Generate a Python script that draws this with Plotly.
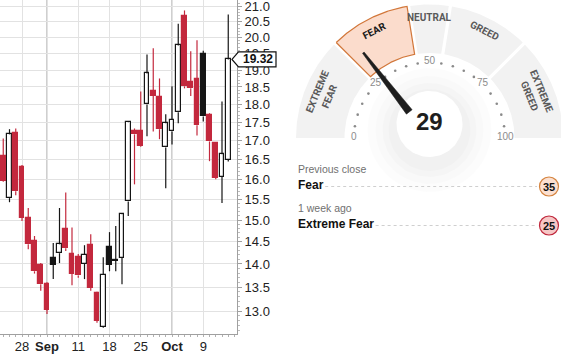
import math
import numpy as np
import plotly.graph_objects as go

# ---------------- data ----------------
dates = ["2023-08-23", "2023-08-24", "2023-08-25", "2023-08-28", "2023-08-29", "2023-08-30",
         "2023-08-31", "2023-09-01", "2023-09-05", "2023-09-06", "2023-09-07", "2023-09-08",
         "2023-09-11", "2023-09-12", "2023-09-13", "2023-09-14", "2023-09-15", "2023-09-18",
         "2023-09-19", "2023-09-20", "2023-09-21", "2023-09-22", "2023-09-25", "2023-09-26",
         "2023-09-27", "2023-09-28", "2023-09-29", "2023-10-02", "2023-10-03", "2023-10-04",
         "2023-10-05", "2023-10-06", "2023-10-09", "2023-10-10", "2023-10-11", "2023-10-12",
         "2023-10-13"]
opens = [16.60, 15.53, 17.20, 16.30, 15.05, 14.51, 13.98, 13.56, 14.13, 14.24, 14.79, 14.22,
         14.15, 14.00, 14.42, 13.37, 12.68, 14.37, 14.09, 14.13, 15.45, 17.25, 17.25, 18.00,
         18.37, 18.20, 16.82, 17.25, 17.78, 20.70, 18.66, 18.72, 19.50, 17.69, 16.93, 16.06,
         16.49]
highs = [17.06, 17.31, 17.33, 16.36, 15.29, 14.63, 14.02, 13.60, 14.47, 15.29, 15.67, 14.83,
         14.22, 14.42, 14.67, 13.40, 14.15, 14.72, 14.86, 15.15, 17.52, 17.33, 18.37, 19.47,
         19.66, 18.75, 17.72, 18.52, 20.44, 20.87, 19.57, 19.91, 19.59, 17.75, 16.95, 18.08,
         20.74]
lows = [15.93, 15.43, 15.60, 14.98, 14.33, 13.79, 13.42, 12.94, 13.67, 14.02, 14.29, 13.54,
        13.70, 13.67, 13.42, 12.76, 12.66, 13.84, 13.84, 13.56, 15.10, 15.87, 16.83, 17.12,
        17.25, 17.04, 15.77, 16.90, 17.47, 18.46, 18.24, 17.14, 17.52, 16.46, 16.00, 15.41,
        16.45]
closes = [15.95, 17.17, 15.70, 15.05, 14.44, 13.84, 13.56, 13.02, 13.98, 14.44, 14.35, 13.79,
          13.75, 14.20, 13.48, 12.80, 13.76, 13.98, 14.07, 15.14, 17.50, 17.17, 16.85, 18.90,
          18.24, 17.31, 17.47, 17.56, 19.75, 18.52, 18.46, 17.42, 17.66, 16.98, 16.03, 16.64,
          19.32]
tick_dates = ["2023-08-28", "2023-09-01", "2023-09-11", "2023-09-18", "2023-09-25", "2023-10-02", "2023-10-09"]
tick_labels = ["28", "<b>Sep</b>", "11", "18", "25", "<b>Oct</b>", "9"]
month_dates = ["2023-09-01", "2023-10-02"]
y_tick_values = [13.0, 13.5, 14.0, 14.5, 15.0, 15.5, 16.0, 16.5, 17.0, 17.5, 18.0, 18.5,
                 19.0, 19.5, 20.0, 20.5, 21.0]
y_tick_labels = ["%.1f" % v for v in y_tick_values]

zone_names = ["EXTREME<br>FEAR", "FEAR", "NEUTRAL", "GREED", "EXTREME<br>GREED"]
zone_bounds = [0, 25, 45, 55, 75, 100]
gauge_ticks = [0, 25, 50, 75, 100]
score = 29
history_labels = ["Previous close", "1 week ago"]
history_ratings = ["Fear", "Extreme Fear"]
history_scores = [35, 25]

# ---------------- style / layout constants ----------------
W, H = 561, 354
RED = "#c3283d"
BLACK = "#151515"
FONT = "Liberation Sans, Arial, sans-serif"
NARROW = "Liberation Sans Narrow, Roboto, Arial, sans-serif"

PLOT_RIGHT_PX = 237
PLOT_BOTTOM_PX = 334
x_range = [-0.52, 37.4]
y_range = [1.09823, 1.32666]
y_dom0 = 1 - PLOT_BOTTOM_PX / H

fig = go.Figure()

# ---------------- candlesticks (hollow style) ----------------
xi = list(range(len(dates)))
kinds = []
for i in xi:
    prev = closes[i - 1] if i > 0 else opens[i]
    hollow = closes[i] > opens[i]
    col = BLACK if closes[i] >= prev else RED
    kinds.append((hollow, col))

# wicks
for col in (BLACK, RED):
    wx, wy = [], []
    for i in xi:
        if kinds[i][1] != col:
            continue
        top = max(opens[i], closes[i])
        bot = min(opens[i], closes[i])
        wx += [i, i, None, i, i, None]
        wy += [highs[i], top, None, bot, lows[i], None]
    fig.add_trace(go.Scatter(x=wx, y=wy, mode="lines", line=dict(color=col, width=1.2),
                             hoverinfo="skip", xaxis="x", yaxis="y"))

for kind in [(True, BLACK), (True, RED), (False, BLACK), (False, RED)]:
    idx = [i for i in xi if kinds[i] == kind]
    if not idx:
        continue
    hollow, col = kind
    base = [min(opens[i], closes[i]) for i in idx]
    size = [max(abs(closes[i] - opens[i]), 0.02) for i in idx]
    fig.add_trace(go.Bar(x=idx, y=size, base=base, width=0.78,
                         marker=dict(color="white" if hollow else col, line=dict(color=col, width=1.2)),
                         hoverinfo="skip", xaxis="x", yaxis="y"))

# month separator lines
for d in month_dates:
    fig.add_shape(type="line", xref="x", yref="y domain", x0=dates.index(d), x1=dates.index(d),
                  y0=0, y1=1, line=dict(color="#cfcfcf", width=2), layer="below")

# last price tag
def yfrac(v):
    f = (math.log10(v) - y_range[0]) / (y_range[1] - y_range[0])
    return y_dom0 + f * (1 - y_dom0)

yp = yfrac(closes[-1])
hh = 7.5 / H
xl, xb, xr = 232 / W, 238.5 / W, 276 / W
fig.add_shape(type="path", xref="paper", yref="paper",
              path=f"M {xl} {yp} L {xb} {yp + hh} L {xr} {yp + hh} L {xr} {yp - hh} L {xb} {yp - hh} Z",
              fillcolor="white", line=dict(color="#111", width=1.2), layer="above")
fig.add_annotation(xref="paper", yref="paper", x=257.5 / W, y=yp, xanchor="center", yanchor="middle",
                   text="<b>%.2f</b>" % closes[-1],
                   showarrow=False, font=dict(family=FONT, size=12, color="#111"))

# ---------------- gauge ----------------
CX, CY = 429.5, 138.0
R_OUT, R_IN, GAP = 133.5, 85.0, 1.6


def ang(v):
    return math.pi * (1 - v / 100.0)


def gx(px):
    return px - CX


def gy(py):
    return CY - py


# faint halo around the centre
for r, a in [(62, 0.010), (54, 0.012), (47, 0.014), (41, 0.014)]:
    t = np.linspace(0, 2 * np.pi, 90)
    fig.add_trace(go.Scatter(x=(r * np.cos(t)).tolist(), y=(r * np.sin(t) + 8).tolist(), mode="lines",
                             fill="toself", fillcolor=f"rgba(0,0,0,{a})", line=dict(width=0),
                             hoverinfo="skip", xaxis="x2", yaxis="y2"))
t = np.linspace(0, 2 * np.pi, 90)
fig.add_trace(go.Scatter(x=(33 * np.cos(t)).tolist(), y=(33 * np.sin(t) + 14).tolist(), mode="lines",
                         fill="toself", fillcolor="white", line=dict(width=0),
                         hoverinfo="skip", xaxis="x2", yaxis="y2"))

nz = len(zone_names)
for k in range(nz):
    v0, v1 = zone_bounds[k], zone_bounds[k + 1]
    a0, a1 = ang(v0), ang(v1)

    def off(r, edge):
        if (edge == 0 and k == 0) or (edge == 1 and k == nz - 1):
            return 0.0
        return math.asin(GAP / r)

    outer = np.linspace(a0 - off(R_OUT, 0), a1 + off(R_OUT, 1), 80)
    inner = np.linspace(a1 + off(R_IN, 1), a0 - off(R_IN, 0), 80)
    xs = list(R_OUT * np.cos(outer)) + list(R_IN * np.cos(inner))
    ys = list(R_OUT * np.sin(outer)) + list(R_IN * np.sin(inner))
    xs.append(xs[0])
    ys.append(ys[0])
    active = v0 <= score < v1
    fig.add_trace(go.Scatter(x=xs, y=ys, mode="lines", fill="toself",
                             fillcolor="#fbdccc" if active else "#f2f2f2",
                             line=dict(color="#d2773a" if active else "rgba(0,0,0,0)", width=1.2 if active else 0),
                             hoverinfo="skip", xaxis="x2", yaxis="y2"))
    mid = (a0 + a1) / 2
    two = "<br>" in zone_names[k]
    rl = 115 if two else 120.5
    fig.add_annotation(xref="x2", yref="y2", x=rl * math.cos(mid), y=rl * math.sin(mid),
                       text="<b>%s</b>" % zone_names[k], showarrow=False,
                       textangle=90 - math.degrees(mid),
                       font=dict(family=NARROW, size=10, color="#1a1a1a" if active else "#5a5a5a"))

# dots and tick labels
R_TK = 75.5
dots = [v for v in range(0, 101, 5) if v not in gauge_ticks]
fig.add_trace(go.Scatter(x=[R_TK * math.cos(ang(v)) for v in dots], y=[R_TK * math.sin(ang(v)) for v in dots],
                         mode="markers", marker=dict(size=2.6, color="#8a8a8a"), hoverinfo="skip",
                         xaxis="x2", yaxis="y2"))
for v in gauge_ticks:
    fig.add_annotation(xref="x2", yref="y2", x=R_TK * math.cos(ang(v)), y=R_TK * math.sin(ang(v)) + 2,
                       text=str(v), showarrow=False, font=dict(family=FONT, size=10, color="#8c8c8c"))

# needle
a = ang(score)
ux, uy = math.cos(a), math.sin(a)
nx, ny = -uy, ux
rb, rt, wb, wt = 33, 108, 3.6, 1.0
nxs = [rb * ux + wb * nx, rt * ux + wt * nx, rt * ux - wt * nx, rb * ux - wb * nx, rb * ux + wb * nx]
nys = [rb * uy + wb * ny, rt * uy + wt * ny, rt * uy - wt * ny, rb * uy - wb * ny, rb * uy + wb * ny]
fig.add_trace(go.Scatter(x=nxs, y=nys, mode="lines", fill="toself", fillcolor="#1e1e1e",
                         line=dict(color="#1e1e1e", width=0.5), hoverinfo="skip", xaxis="x2", yaxis="y2"))

fig.add_annotation(xref="x2", yref="y2", x=0, y=gy(121), text="<b>%d</b>" % score, showarrow=False,
                   font=dict(family=FONT, size=24, color="#1e1e1e"))

# history rows
row_label_py = [169, 208]
row_value_py = [185, 224]
for j in range(len(history_labels)):
    fig.add_annotation(xref="x2", yref="y2", x=gx(296), y=gy(row_label_py[j]), xanchor="left",
                       text=history_labels[j], showarrow=False, font=dict(family=FONT, size=10.5, color="#707070"))
    fig.add_annotation(xref="x2", yref="y2", x=gx(296), y=gy(row_value_py[j]), xanchor="left",
                       text="<b>%s</b>" % history_ratings[j], showarrow=False,
                       font=dict(family=FONT, size=12, color="#111"))
    s = history_scores[j]
    if s <= 25:
        fc, lc = "#f6c7c6", "#c0283c"
    elif s < 45:
        fc, lc = "#fbe0d1", "#d5843f"
    else:
        fc, lc = "#eeeeee", "#999999"
    x_end = 296 + 6.3 * len(history_ratings[j]) + 4
    cyp = row_value_py[j] + 1.5
    fig.add_shape(type="line", xref="x2", yref="y2", x0=gx(x_end), x1=gx(537), y0=gy(cyp), y1=gy(cyp),
                  line=dict(color="#cfcfcf", width=1, dash="dot"))
    fig.add_shape(type="circle", xref="x2", yref="y2", x0=gx(549 - 9.5), x1=gx(549 + 9.5),
                  y0=gy(cyp - 9.5), y1=gy(cyp + 9.5), fillcolor=fc, line=dict(color=lc, width=1.2))
    fig.add_annotation(xref="x2", yref="y2", x=gx(549), y=gy(cyp), text="<b>%d</b>" % s, showarrow=False,
                       font=dict(family=FONT, size=11, color="#111"))

# ---------------- layout ----------------
minor_y = [round(v, 1) for v in np.arange(12.6, 21.15, 0.1) if round(v, 1) not in y_tick_values]
fig.update_layout(
    width=W, height=H, margin=dict(l=0, r=0, t=0, b=0),
    paper_bgcolor="white", plot_bgcolor="white", showlegend=False,
    barmode="overlay", bargap=0,
    xaxis=dict(domain=[0, PLOT_RIGHT_PX / W], range=x_range, tickmode="array",
               tickvals=[dates.index(d) for d in tick_dates], ticktext=tick_labels,
               showgrid=True, gridcolor="#e2e2e2", gridwidth=1, zeroline=False,
               showline=True, linecolor="#a0a0a0", linewidth=1, ticks="",
               tickfont=dict(family=FONT, size=13, color="#222"), fixedrange=True,
               automargin=False, ticklabeloverflow="allow",
               minor=dict(dtick=1, tick0=0, ticks="outside", ticklen=2, tickcolor="#b0b0b0", showgrid=False)),
    yaxis=dict(domain=[y_dom0, 1], type="log", range=y_range, side="right", anchor="x",
               tickmode="array", tickvals=y_tick_values, ticktext=y_tick_labels,
               showgrid=True, gridcolor="#e2e2e2", gridwidth=1, zeroline=False,
               showline=True, linecolor="#a0a0a0", linewidth=1, ticks="outside", ticklen=4,
               tickcolor="#a0a0a0", tickfont=dict(family=FONT, size=13, color="#222"), fixedrange=True,
               automargin=False, ticklabeloverflow="allow",
               minor=dict(tickmode="array", tickvals=minor_y, ticks="outside", ticklen=2,
                          tickcolor="#bdbdbd", showgrid=False)),
    xaxis2=dict(domain=[290 / W, 1], range=[290 - CX, W - CX], visible=False, fixedrange=True, anchor="y2"),
    yaxis2=dict(domain=[0, 1], range=[CY - H, CY], visible=False, fixedrange=True, anchor="x2"),
)

fig.write_html("out.html")
